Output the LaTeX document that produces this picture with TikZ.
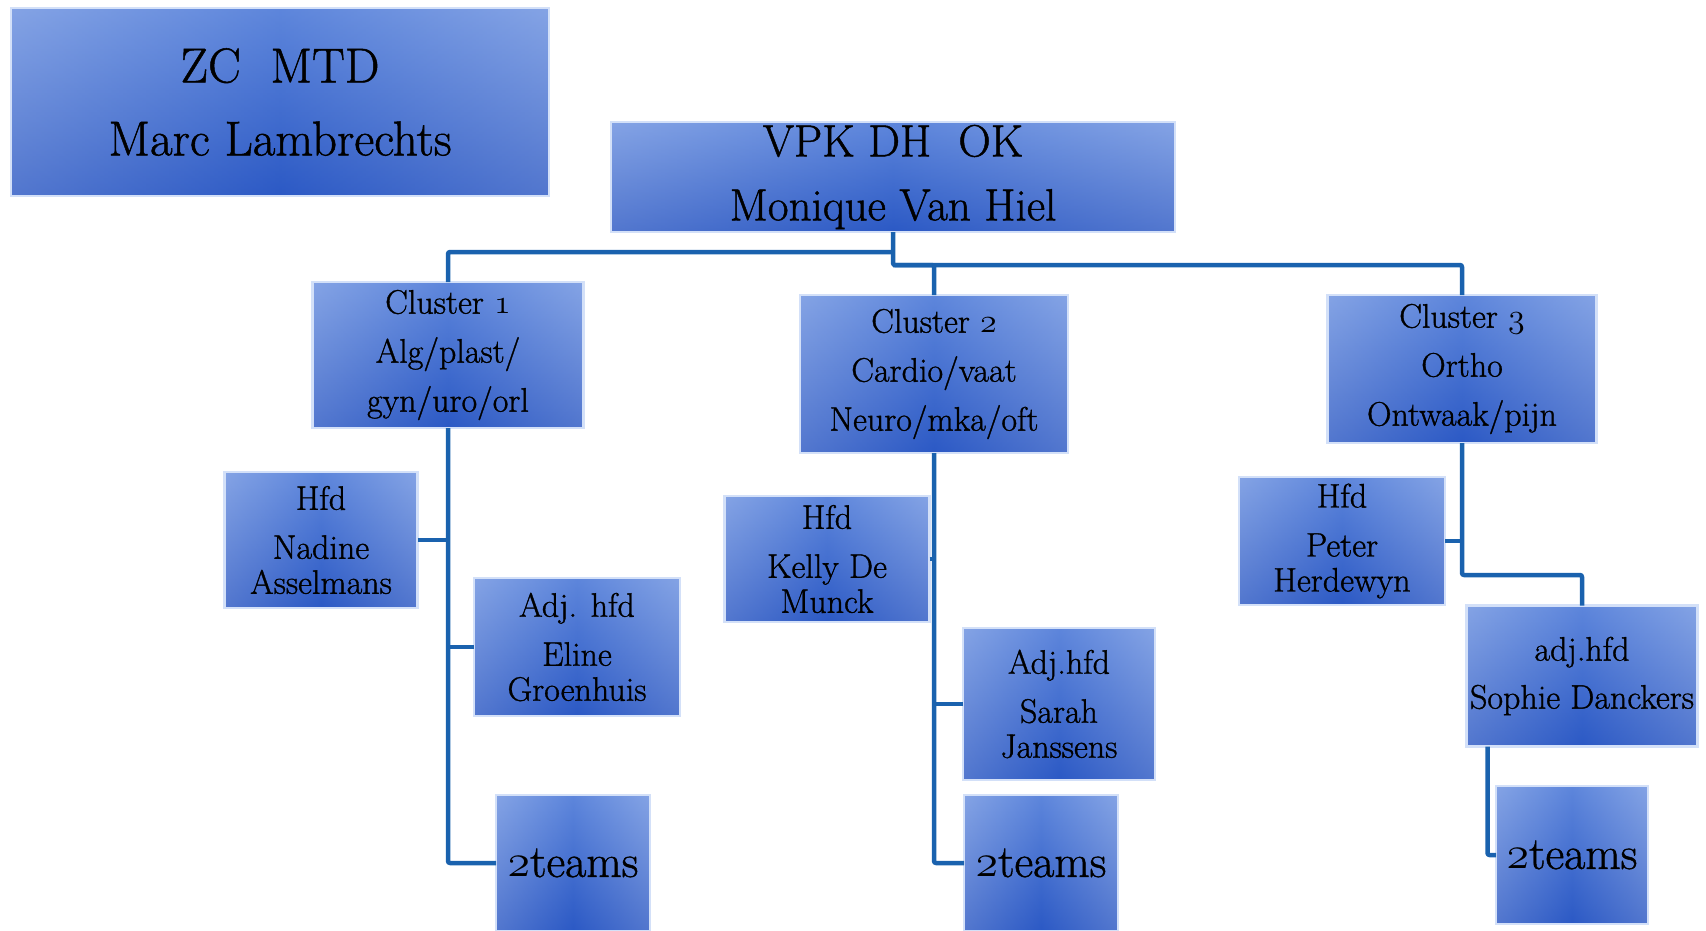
\documentclass[tikz,border=0pt]{standalone}
\usepackage{fix-cm}
\usepackage{fontspec}
\setmainfont{Latin Modern Roman}[FakeBold=1.0]
% old-style digits taken from the math italic font
\newcommand{\osfig}[1]{{\usefont{OML}{cmm}{m}{it}#1}}
\definecolor{boxside}{HTML}{A8BFEE}
\definecolor{boxmid}{HTML}{4B78D7}
\definecolor{boxtop}{HTML}{6B90DF}
\definecolor{boxbot}{HTML}{1543B8}
\definecolor{boxedge}{HTML}{D3E0F8}
\definecolor{lineblue}{HTML}{1A62AE}
\tikzset{
  orgbox/.style={rectangle, inner sep=0pt, outer sep=0pt,
    left color=boxside, right color=boxside, middle color=boxmid,
    postaction={fill opacity=0.58, top color=boxtop, bottom color=boxbot},
    postaction={draw=boxedge, line width=2.5pt},
    align=center, text=black},
  bigtext/.style={font=\fontsize{49}{73}\selectfont},
  toptext/.style={font=\fontsize{45}{64}\selectfont},
  midtext/.style={font=\fontsize{34}{49}\selectfont},
  nametext/.style={font=\fontsize{34}{35}\selectfont},
  teamtext/.style={font=\fontsize{46}{50}\selectfont},
  conn/.style={draw=lineblue, line width=4.5pt, rounded corners=2pt, line join=round}
}
\begin{document}
\begin{tikzpicture}[x=1pt,y=-1pt]
\useasboundingbox (0,0) rectangle (1706,930);

% management boxes
\node[orgbox, bigtext, minimum width=538pt, minimum height=188pt] (zc) at (280,102) {ZC\ \ MTD\\Marc Lambrechts};
\node[orgbox, toptext, minimum width=564pt, minimum height=110pt] (vpk) at (893,177) {VPK DH\ \ OK\\Monique Van Hiel};

% clusters
\node[orgbox, midtext, minimum width=271pt, minimum height=146pt] (c1) at (448,355) {Cluster \osfig{1}\\Alg/plast/\\gyn/uro/orl};
\node[orgbox, midtext, minimum width=268pt, minimum height=158pt] (c2) at (934,374) {Cluster \osfig{2}\\Cardio/vaat\\Neuro/mka/oft};
\node[orgbox, midtext, minimum width=269pt, minimum height=148pt] (c3) at (1462,369) {Cluster \osfig{3}\\Ortho\\Ontwaak/pijn};

% cluster 1 staff
\node[orgbox, nametext, minimum width=193pt, minimum height=136pt] (n1) at (321,540) {Hfd\\[14pt]Nadine\\Asselmans};
\node[orgbox, nametext, minimum width=206pt, minimum height=138pt] (e1) at (577,647) {Adj. hfd\\[14pt]Eline\\Groenhuis};
\node[orgbox, teamtext, minimum width=154pt, minimum height=136pt] (t1) at (573,863) {\osfig{2}teams};

% cluster 2 staff
\node[orgbox, nametext, minimum width=205pt, minimum height=126pt] (k2) at (827,559) {Hfd\\[14pt]Kelly De\\Munck};
\node[orgbox, nametext, minimum width=192pt, minimum height=152pt] (s2) at (1059,704) {Adj.hfd\\[14pt]Sarah\\Janssens};
\node[orgbox, teamtext, minimum width=154pt, minimum height=136pt] (t2) at (1041,863) {\osfig{2}teams};

% cluster 3 staff
\node[orgbox, nametext, minimum width=206pt, minimum height=128pt] (p3) at (1342,541) {Hfd\\[14pt]Peter\\Herdewyn};
\node[orgbox, font=\fontsize{34}{48}\selectfont, minimum width=231pt, minimum height=141pt] (sd) at (1582,676) {adj.hfd\\Sophie Danckers};
\node[orgbox, teamtext, minimum width=152pt, minimum height=138pt] (t3) at (1572,855) {\osfig{2}teams};

% top level connectors
\coordinate (j1) at (893,252);
\coordinate (j2) at (893,265);
\draw[conn] (vpk.south) -- (j2) -| (c3.north);
\draw[conn] (j1) -| (c1.north);
\draw[conn] (j2) -| (c2.north);

% cluster 1 connectors
\draw[conn] (c1.south) |- (t1.west);
\draw[conn] (n1.east) -- (n1.east -| c1.south);
\draw[conn] (e1.west) -- (e1.west -| c1.south);

% cluster 2 connectors
\draw[conn] (c2.south) |- (t2.west);
\draw[conn] (k2.east) -- (k2.east -| c2.south);
\draw[conn] (s2.west) -- (s2.west -| c2.south);

% cluster 3 connectors
\coordinate (j3) at (1462,575);
\draw[conn] (c3.south) -- (j3) -| (sd.north);
\draw[conn] (p3.east) -- (p3.east -| c3.south);
\draw[conn] ([xshift=21pt]sd.south west) |- (t3.west);
\end{tikzpicture}
\end{document}
